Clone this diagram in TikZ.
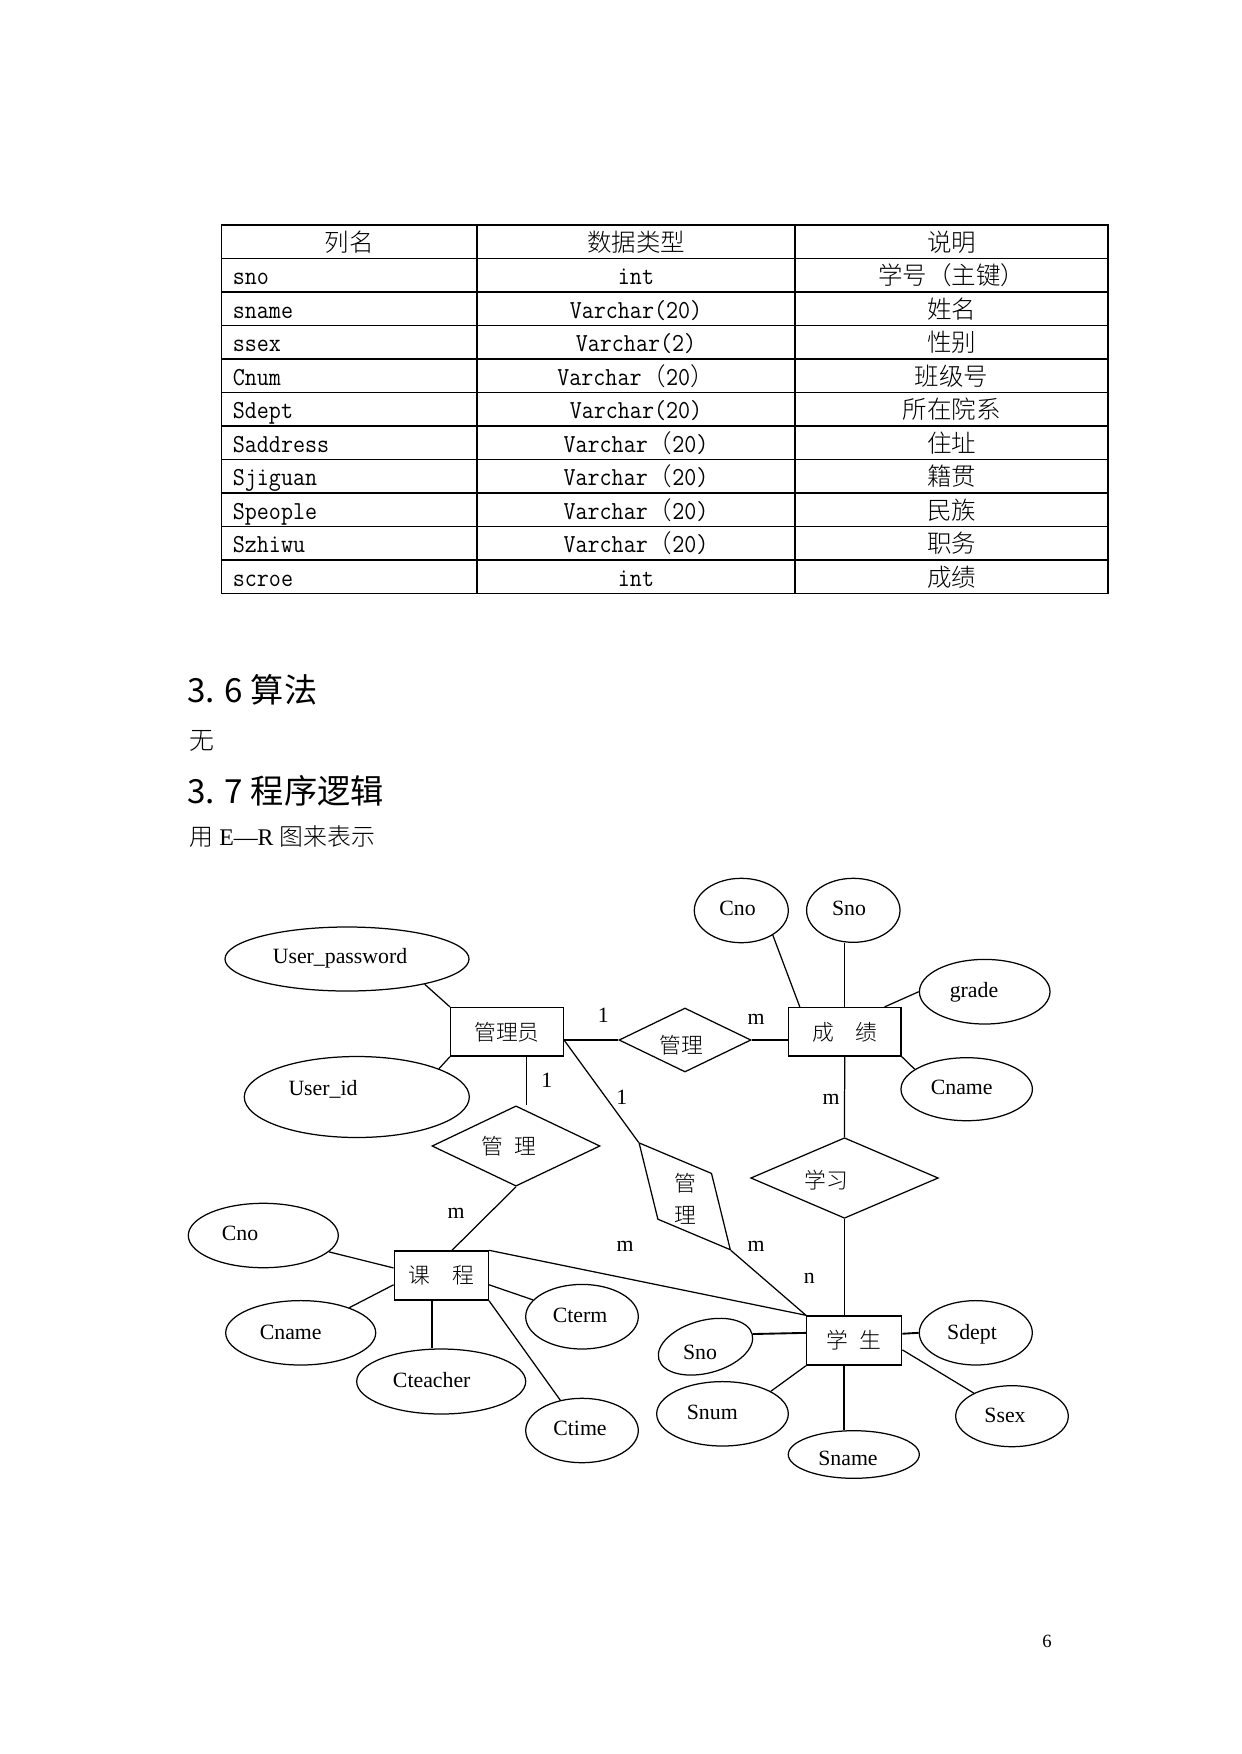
\documentclass[tikz,border=0pt]{standalone}
\usepackage{graphicx}
\usepackage{fontspec}
\setmainfont{Liberation Serif}
\newfontfamily\cjk{Noto Sans CJK SC}
\IfFontExistsTF{Noto Sans CJK SC Light}
  {\newfontfamily\cjkl{Noto Sans CJK SC Light}}
  {\newfontfamily\cjkl{Noto Sans CJK SC}}
\usetikzlibrary{shapes.geometric}
\newcommand\erf{\fontsize{10.5}{12}\selectfont}
\newcommand\ercjk{\cjkl\fontsize{10.5}{12}\selectfont}
\newcommand\tbcjk{\cjkl\fontsize{11.8}{14}\selectfont}
\newcommand\tblat[1]{\scalebox{0.9}[1]{\ttfamily\fontsize{12.5}{14}\selectfont #1}}
\begin{document}
\begin{tikzpicture}[x=0.16933mm,y=-0.16933mm,
  sz/.style 2 args={minimum width=#1*0.4818, minimum height=#2*0.4818},
  gridline/.style={line width=0.6pt},
  cell/.style={inner sep=0, anchor=base},
  cellw/.style={inner sep=0, anchor=base west},
  ent/.style={draw, rectangle, line width=0.7pt, inner sep=0, font=\ercjk},
  attr/.style={draw, ellipse, line width=0.6pt, inner sep=0},
  rel/.style={draw, diamond, line width=0.6pt, inner sep=0},
  lbl/.style={inner sep=0, font=\erf, text height=0.75em, text depth=0.19em},
  clbl/.style={inner sep=0, font=\ercjk},
  conn/.style={line width=0.6pt},
  thk/.style={line width=0.9pt}]
\fill[white] (0,0) rectangle (1241,1754);
\useasboundingbox (0,0) rectangle (1241,1754);

% ---------- table ----------
\draw[gridline] (221.7,225) rectangle (1108,593.5);
\foreach \yy in {258.5,292,325.5,359,392.5,426,459.5,493,526.5,560}
  \draw[gridline] (221.7,\yy) -- (1108,\yy);
\draw[gridline] (477,225) -- (477,593.5);
\draw[gridline] (795,225) -- (795,593.5);

\node[cell, font=\tbcjk] (h0a) at (349.4,251.25) {列名};
\node[cell, font=\tbcjk] (h0b) at (636,251.25) {数据类型};
\node[cell, font=\tbcjk] (h0c) at (951.5,251.25) {说明};

\node[cellw] (r1a) at (232.5,284.75) {\tblat{sno}};
\node[cell] (r1b) at (636,284.75) {\tblat{int}};
\node[cell, font=\tbcjk] (r1c) at (951.5,284.75) {学号（主键）};

\node[cellw] (r2a) at (232.5,318.25) {\tblat{sname}};
\node[cell] (r2b) at (636,318.25) {\tblat{Varchar(20)}};
\node[cell, font=\tbcjk] (r2c) at (951.5,318.25) {姓名};

\node[cellw] (r3a) at (232.5,351.75) {\tblat{ssex}};
\node[cell] (r3b) at (636,351.75) {\tblat{Varchar(2)}};
\node[cell, font=\tbcjk] (r3c) at (951.5,351.75) {性别};

\node[cellw] (r4a) at (232.5,385.25) {\tblat{Cnum}};
\node[cell] (r4b) at (636,385.25) {\tblat{Varchar}{\tbcjk （}\tblat{20}{\tbcjk ）}};
\node[cell, font=\tbcjk] (r4c) at (951.5,385.25) {班级号};

\node[cellw] (r5a) at (232.5,418.75) {\tblat{Sdept}};
\node[cell] (r5b) at (636,418.75) {\tblat{Varchar(20)}};
\node[cell, font=\tbcjk] (r5c) at (951.5,418.75) {所在院系};

\node[cellw] (r6a) at (232.5,452.25) {\tblat{Saddress}};
\node[cell] (r6b) at (636,452.25) {\tblat{Varchar}{\tbcjk （}\tblat{20)}};
\node[cell, font=\tbcjk] (r6c) at (951.5,452.25) {住址};

\node[cellw] (r7a) at (232.5,485.75) {\tblat{Sjiguan}};
\node[cell] (r7b) at (636,485.75) {\tblat{Varchar}{\tbcjk （}\tblat{20)}};
\node[cell, font=\tbcjk] (r7c) at (951.5,485.75) {籍贯};

\node[cellw] (r8a) at (232.5,519.25) {\tblat{Speople}};
\node[cell] (r8b) at (636,519.25) {\tblat{Varchar}{\tbcjk （}\tblat{20)}};
\node[cell, font=\tbcjk] (r8c) at (951.5,519.25) {民族};

\node[cellw] (r9a) at (232.5,552.75) {\tblat{Szhiwu}};
\node[cell] (r9b) at (636,552.75) {\tblat{Varchar}{\tbcjk （}\tblat{20)}};
\node[cell, font=\tbcjk] (r9c) at (951.5,552.75) {职务};

\node[cellw] (r10a) at (232.5,586.25) {\tblat{scroe}};
\node[cell] (r10b) at (636,586.25) {\tblat{int}};
\node[cell, font=\tbcjk] (r10c) at (951.5,586.25) {成绩};

% ---------- headings ----------
\node[cellw, font=\cjk\fontsize{16}{19}\selectfont] (h36) at (187,702) {3. 6 算法};
\node[cellw, font=\cjkl\fontsize{12}{14}\selectfont] (p36) at (189,749) {无};
\node[cellw, font=\cjk\fontsize{16}{19}\selectfont] (h37) at (187,803) {3. 7 程序逻辑};
\node[cellw, font=\fontsize{11.5}{14}\selectfont] (p37) at (189,845) {{\cjkl 用} E—R {\cjkl 图来表示}};
\node[cell, font=\fontsize{9}{11}\selectfont] (pg) at (1047,1647) {6};

% ---------- ER entities ----------
\node[ent, sz={112.6}{48.3}] (adm) at (507,1031.8) {管理员\hspace{7.7pt}};
\node[ent, sz={112.7}{48.3}] (grd) at (844.7,1031.8) {成\hspace{1em}绩\hspace{7.4pt}};
\node[ent, sz={94}{49}] (crs) at (441.3,1275.5) {课\hspace{1em}程};
\node[ent, sz={95}{49}] (stu) at (854.2,1340.5) {学\hspace{0.5em}生\hspace{3.9pt}};

% ---------- relationships ----------
\node[rel, sz={168}{80.3}] (rel1) at (516,1146) {};
\node[clbl] (rel1t) at (509,1146) {管\hspace{0.5em}理};
\node[rel, sz={132}{64}] (rel2) at (685,1040) {};
\node[clbl] (rel2t) at (681.7,1045) {管理};
\node[rel, sz={141}{71}, rotate=-49.5] (rel3) at (684.7,1196.3) {};
\node[clbl] (rel3a) at (685.7,1182.7) {管};
\node[clbl] (rel3b) at (685.7,1215) {理};
\node[rel, sz={187.6}{80.6}] (rel4) at (844.5,1178) {};
\node[clbl] (rel4t) at (826.7,1180) {学习};

% ---------- attributes ----------
\node[attr, sz={244}{64}] (upw) at (347,959) {};
\node[lbl] (upwt) at (340,958) {User\_password};
\node[attr, sz={225}{81}] (uid) at (356.8,1097) {};
\node[lbl] (uidt) at (323,1090) {User\_id};

\node[attr, sz={94}{64.4}] (cnoT) at (741.3,910.5) {};
\node[lbl] (cnoTt) at (737.5,910) {Cno};
\node[attr, sz={93.4}{64}] (snoT) at (853.3,910.3) {};
\node[lbl] (snoTt) at (849,910) {Sno};
\node[attr, sz={130.6}{64.6}] (grad) at (984.7,991.7) {};
\node[lbl] (gradt) at (974,991.7) {grade};
\node[attr, sz={131.4}{63}] (cnam) at (966.7,1089.2) {};
\node[lbl] (cnamt) at (961.7,1089) {Cname};

\node[attr, sz={150}{64.4}] (cnoL) at (263.3,1235.5) {};
\node[lbl] (cnoLt) at (240,1235) {Cno};
\node[attr, sz={150}{64.4}] (cnmL) at (300.7,1332.8) {};
\node[lbl] (cnmLt) at (290.7,1333.3) {Cname};
\node[attr, sz={169}{65}] (ctch) at (441.2,1381.5) {};
\node[lbl] (ctcht) at (431.7,1381.7) {Cteacher};
\node[attr, sz={112.6}{64.6}] (ctrm) at (582,1316.7) {};
\node[lbl] (ctrmt) at (580,1316.7) {Cterm};
\node[attr, sz={112.6}{64.4}] (ctim) at (582,1430.5) {};
\node[lbl] (ctimt) at (580,1429.3) {Ctime};

\node[attr, sz={96.7}{52.7}, rotate=15] (snoS) at (705.5,1346.7) {};
\node[lbl] (snoSt) at (700,1353.3) {Sno};
\node[attr, sz={131.6}{64.4}] (snum) at (722.5,1413.8) {};
\node[lbl] (snumt) at (712.3,1413.3) {Snum};
\node[attr, sz={131}{47.6}] (snam) at (853.8,1454.5) {};
\node[lbl] (snamt) at (848,1460) {Sname};
\node[attr, sz={113}{64.4}] (sdep) at (975.8,1332.8) {};
\node[lbl] (sdept) at (972,1333.3) {Sdept};
\node[attr, sz={112.6}{61}] (ssex) at (1012,1416.2) {};
\node[lbl] (ssext) at (1005,1416.7) {Ssex};

% ---------- connectors ----------
\draw[conn] (upw.-18) -- (adm.north west);
\draw[conn] (uid.19.3) -- (adm.south west);
\draw[thk] (adm.-52.2) -- (adm.-52.2 |- rel1.north);
\draw[conn] (rel2.west -| adm.east) -- (rel2.west);
\draw[conn] (rel2.east) -- (rel2.east -| grd.west);
\draw[conn] (rel2.west -| adm.east) -- (rel3.west);
\draw[conn] (rel3.east) -- (stu.north west);
\draw[conn] (crs.north east) -- (stu.north west);
\draw[conn] (crs.67) -- (rel1.south);
\draw[conn] (cnoL) -- (crs.171.3);
\draw[conn] (cnmL) -- (crs.-169.4);
\draw[thk] (crs.-111.4) -- (crs.-111.4 |- ctch.north);
\draw[conn] (crs.-11.4) -- (ctrm);
\draw[conn] (crs.south east) -- (ctim);
\draw[conn] (cnoT.-38) -- (grd.151.6);
\draw[conn] (grd.north) -- (grd.north |- snoT.south);
\draw[conn] (grd.32.4) -- (grad.west);
\draw[conn] (grd.south east) -- (cnam.159);
\draw[conn] (grd.south) -- (rel4.north);
\draw[conn] (rel4.south) -- (rel4.south |- stu.north);
\draw[thk] (stu.171.4) -- (snoS.east);
\draw[conn] (stu.south west) -- (snum.25);
\draw[conn] (stu.-112) -- (stu.-112 |- snam.north);
\draw[thk] (stu.8.6) -- (sdep.west);
\draw[conn] (stu.-11.3) -- (ssex);

% ---------- cardinalities ----------
\node[lbl] (c1) at (603.3,1016.7) {1};
\node[lbl] (c2) at (756,1018.3) {m};
\node[lbl] (c3) at (546.7,1081.7) {1};
\node[lbl] (c4) at (621.7,1098.3) {1};
\node[lbl] (c5) at (831,1098.3) {m};
\node[lbl] (c6) at (456,1212.7) {m};
\node[lbl] (c7) at (625,1246) {m};
\node[lbl] (c8) at (756,1246) {m};
\node[lbl] (c9) at (809.3,1277.5) {n};
\end{tikzpicture}
\end{document}
